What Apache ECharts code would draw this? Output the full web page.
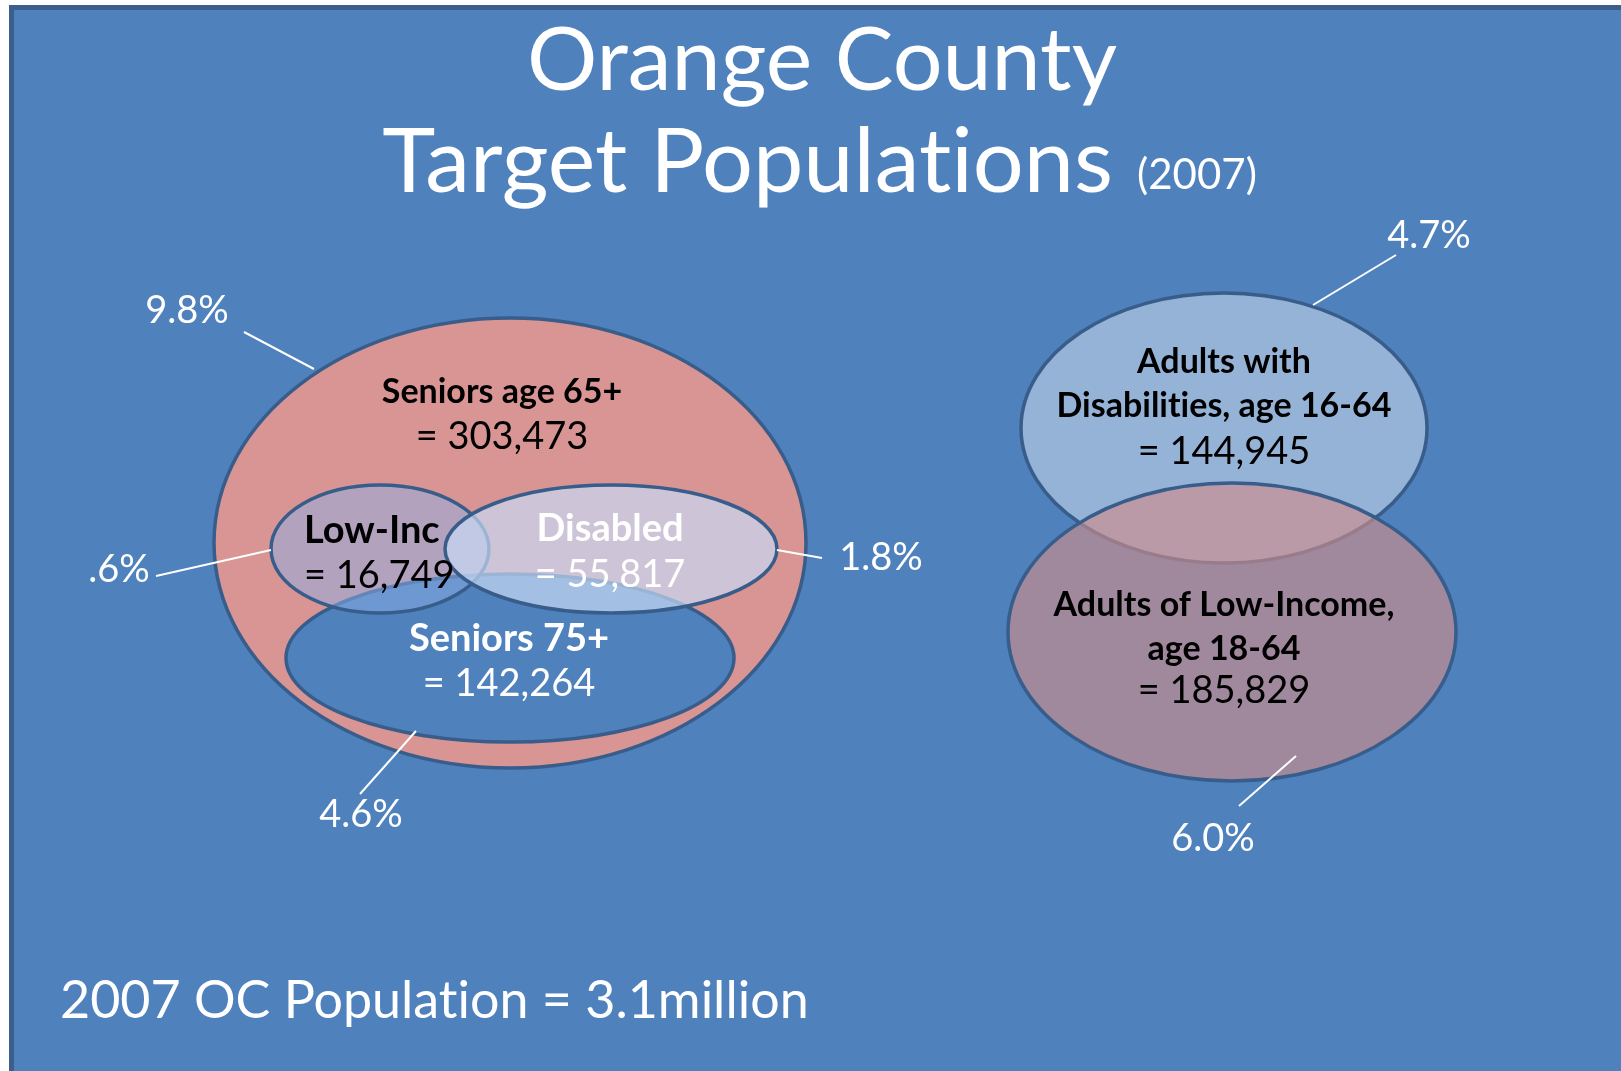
<!DOCTYPE html>
<html><head><meta charset="utf-8">
<script src="https://cdn.jsdelivr.net/npm/echarts@6/dist/echarts.min.js"></script>
<style>html,body{margin:0;padding:0;background:#fff;overflow:hidden}#c{width:1621px;height:1071px}</style>
</head><body><div id="c"></div>
<script>
// keep plain glyphs (no "ti" ligature), as in the original slide font
(function () {
  const P = CanvasRenderingContext2D.prototype;
  if (!('textRendering' in P)) return;
  ['fillText', 'strokeText', 'measureText'].forEach(function (fn) {
    const orig = P[fn];
    P[fn] = function () {
      try { this.textRendering = 'optimizeSpeed'; } catch (e) {}
      return orig.apply(this, arguments);
    };
  });
})();

// ---- data ----
const titleLines = ['Orange County', 'Target Populations'];
const surveyYear = '2007';
const totalPopulationText = '2007 OC Population = 3.1million';
const groupNames = ['Seniors age 65+', 'Seniors 75+', 'Low-Inc', 'Disabled', 'Adults with\nDisabilities, age 16-64', 'Adults of Low-Income,\nage 18-64'];
const groupCounts = [303473, 142264, 16749, 55817, 144945, 185829];
const groupShares = ['9.8%', '4.6%', '.6%', '1.8%', '4.7%', '6.0%'];

// ---- layout (canvas units, x right, y down) ----
const ellipseGeom = [ // cx, cy, rx, ry
  [510, 543, 296, 225],
  [510, 658, 224, 84],
  [380, 549, 109, 64],
  [611, 549, 166, 64],
  [1224, 428, 203, 135],
  [1232, 632, 224, 149]
];
const nameAnchor = [[502, 392], [509, 639], [304, 531], [610, 529], [1224, 384], [1224, 627]];
const countAnchor = [[502, 437], [509, 684], [304, 576], [610, 575], [1224, 452], [1224, 691]];
const shareAnchor = [[187, 311], [361, 815], [119, 570], [881, 558], [1429, 236], [1213, 839]];
const leaderFrom = [[244, 332], [360, 794], [156, 576], [777, 550], [1313, 305], [1239, 806]];
const leaderTo = [[314, 369], [416, 731], [271, 550], [822, 558], [1396, 255], [1296, 756]];

// ---- styles ----
const ellipseFill = ['#D99594', '#4F81BD', 'rgba(142,175,231,0.5)', 'rgba(200,218,243,0.7)', '#95B3D7', 'rgba(204,141,140,0.65)'];
const labelColor = ['#000', '#fff', '#000', '#fff', '#000', '#000'];
const nameSize = [34, 38, 38, 38, 34, 34];
const labelAlign = ['center', 'center', 'left', 'center', 'center', 'center'];
const FONT = 'Lato, "Open Sans", sans-serif';

const chart = echarts.init(document.getElementById('c'), null, {renderer: 'canvas'});
const idx = groupNames.map((_, i) => i);

chart.setOption({
  animation: false,
  backgroundColor: '#ffffff',
  grid: {left: 0, right: 0, top: 0, bottom: 0},
  xAxis: {type: 'value', min: 0, max: 1621, show: false},
  yAxis: {type: 'value', min: 0, max: 1071, inverse: true, show: false},
  graphic: [
    {type: 'rect', z: -10, shape: {x: 11.5, y: 7.5, width: 1700, height: 1200},
     style: {fill: '#4F81BD', stroke: '#3A5F8C', lineWidth: 5}},
    {type: 'text', z: 10, x: 822, y: 62, style: {text: titleLines[0], fill: '#fff', fontFamily: FONT, fontSize: 88, align: 'center', verticalAlign: 'middle'}},
    {type: 'text', z: 10, x: 1113, y: 163, style: {text: titleLines[1], fill: '#fff', fontFamily: FONT, fontSize: 90, align: 'right', verticalAlign: 'middle'}},
    {type: 'text', z: 10, x: 1137, y: 175, style: {text: '(' + surveyYear + ')', fill: '#fff', fontFamily: FONT, fontSize: 42, align: 'left', verticalAlign: 'middle'}},
    {type: 'text', z: 10, x: 60, y: 1001, style: {text: totalPopulationText, fill: '#fff', fontFamily: FONT, fontSize: 52, align: 'left', verticalAlign: 'middle'}}
  ],
  series: [
    {
      type: 'custom', coordinateSystem: 'cartesian2d', silent: true, z: 2,
      data: idx.map(i => ({name: groupNames[i], value: [ellipseGeom[i][0], ellipseGeom[i][1], ellipseGeom[i][2], ellipseGeom[i][3], i]})),
      renderItem: function (params, api) {
        const i = api.value(4);
        const c = api.coord([api.value(0), api.value(1)]);
        const s = api.size([api.value(2), api.value(3)]);
        return {type: 'ellipse', shape: {cx: c[0], cy: c[1], rx: s[0], ry: s[1]},
          style: {fill: ellipseFill[i], stroke: '#385D8A', lineWidth: 3.5}};
      }
    },
    {
      type: 'custom', coordinateSystem: 'cartesian2d', silent: true, z: 5,
      data: idx.map(i => ({name: groupNames[i], value: [nameAnchor[i][0], nameAnchor[i][1], countAnchor[i][0], countAnchor[i][1], i, groupCounts[i]]})),
      renderItem: function (params, api) {
        const i = api.value(4);
        const a = api.coord([api.value(0), api.value(1)]);
        const b = api.coord([api.value(2), api.value(3)]);
        return {type: 'group', children: [
          {type: 'text', x: a[0], y: a[1], style: {text: groupNames[i], fill: labelColor[i], fontFamily: FONT, fontWeight: 'bold', fontSize: nameSize[i], lineHeight: 44, align: labelAlign[i], verticalAlign: 'middle'}},
          {type: 'text', x: b[0], y: b[1], style: {text: '= ' + api.value(5).toLocaleString('en-US'), fill: labelColor[i], fontFamily: FONT, fontSize: 38, align: labelAlign[i], verticalAlign: 'middle'}}
        ]};
      }
    },
    {
      type: 'custom', coordinateSystem: 'cartesian2d', silent: true, z: 5,
      data: idx.map(i => ({name: groupShares[i], value: [shareAnchor[i][0], shareAnchor[i][1], leaderFrom[i][0], leaderFrom[i][1], leaderTo[i][0], leaderTo[i][1], i]})),
      renderItem: function (params, api) {
        const i = api.value(6);
        const t = api.coord([api.value(0), api.value(1)]);
        const p1 = api.coord([api.value(2), api.value(3)]);
        const p2 = api.coord([api.value(4), api.value(5)]);
        return {type: 'group', children: [
          {type: 'line', shape: {x1: p1[0], y1: p1[1], x2: p2[0], y2: p2[1]}, style: {stroke: '#fff', lineWidth: 2}},
          {type: 'text', x: t[0], y: t[1], style: {text: groupShares[i], fill: '#fff', fontFamily: FONT, fontSize: 38, align: 'center', verticalAlign: 'middle'}}
        ]};
      }
    }
  ]
});
</script>
</body></html>
